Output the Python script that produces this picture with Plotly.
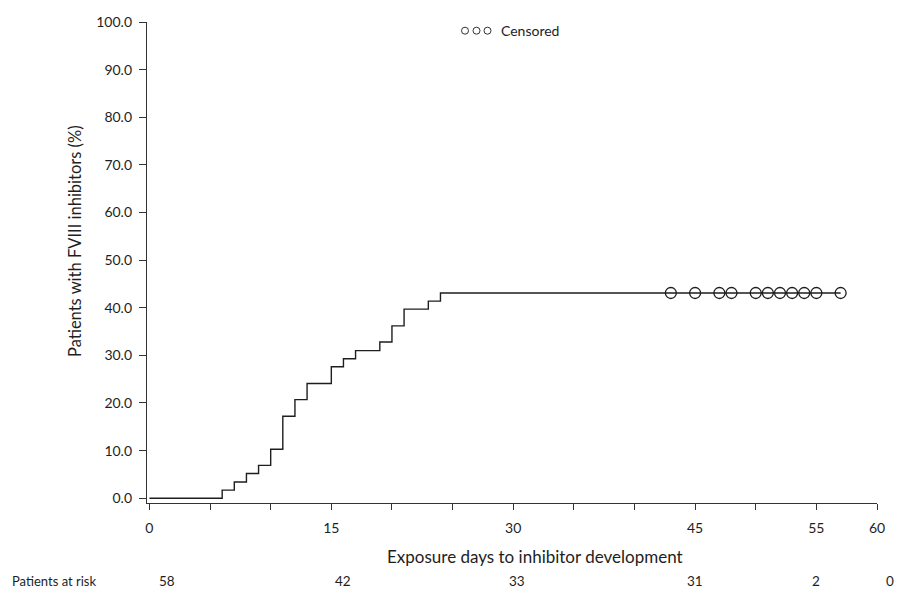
import plotly.graph_objects as go

# ---- data ----
event_days = [0, 6, 7, 8, 9, 10, 11, 12, 13, 15, 16, 17, 19, 20, 21, 23, 24, 57]
cum_pct = [0.0, 1.7, 3.4, 5.2, 6.9, 10.3, 17.2, 20.7, 24.1, 27.6, 29.3, 31.0,
           32.8, 36.2, 39.7, 41.4, 43.1, 43.1]
censored_days = [43, 45, 47, 48, 50, 51, 52, 53, 54, 55, 57]
censored_pct = [43.1] * len(censored_days)

x_tick_vals = list(range(0, 61, 5))
x_tick_labels = ["0", "", "", "15", "", "", "30", "", "", "45", "", "55", "60"]
y_tick_vals = list(range(0, 101, 10))
y_tick_labels = [f"{v:.1f}" for v in y_tick_vals]

risk_label = "Patients at risk"
risk_counts = [58, 42, 33, 31, 2, 0]

# ---- layout constants (page body margin removed below) ----
W, H = 897, 590
ML, MR, MT, MB = 147, 20, 22, 87
PW, PH = W - ML - MR, H - MT - MB
FONT = "Lato"
INK = "#1e1e1e"


def px_x(p):
    return (p - ML) / PW


def px_y(p):
    return (H - MB - p) / PH


risk_px = [167, 343, 517, 695, 816, 890]
RISK_Y = 581

fig = go.Figure()
fig.add_trace(go.Scatter(
    x=event_days, y=cum_pct, mode="lines", line=dict(shape="hv", color=INK, width=1.4),
    showlegend=False, hoverinfo="skip"))
fig.add_trace(go.Scatter(
    x=censored_days, y=censored_pct, mode="markers", name="Censored",
    marker=dict(symbol="circle-open", size=11, color=INK, line=dict(width=1.3, color=INK)),
    showlegend=False))

annotations = [
    dict(text="Exposure days to inhibitor development", x=px_x(535), y=px_y(556),
         xref="paper", yref="paper", showarrow=False, xanchor="center", yanchor="middle",
         font=dict(family=FONT, size=17, color=INK)),
    dict(text="Patients with FVIII inhibitors (%)", x=px_x(75), y=px_y(241),
         xref="paper", yref="paper", showarrow=False, textangle=-90,
         xanchor="center", yanchor="middle",
         font=dict(family=FONT, size=16.5, color=INK)),
    dict(text=risk_label, x=px_x(10), y=px_y(RISK_Y), xref="paper", yref="paper",
         showarrow=False, xanchor="left", yanchor="middle",
         font=dict(family=FONT, size=13, color=INK)),
    dict(text="Censored", x=px_x(499), y=px_y(30), xref="paper", yref="paper",
         showarrow=False, xanchor="left", yanchor="middle",
         font=dict(family=FONT, size=14, color=INK)),
]
for n, p in zip(risk_counts, risk_px):
    annotations.append(dict(text=str(n), x=px_x(p), y=px_y(RISK_Y), xref="paper", yref="paper",
                            showarrow=False, xanchor="center", yanchor="middle",
                            font=dict(family=FONT, size=13.5, color=INK)))

shapes = []
for cx in [465, 476.5, 487.5]:
    shapes.append(dict(type="circle", xref="paper", yref="paper",
                       xsizemode="pixel", ysizemode="pixel",
                       xanchor=px_x(cx), yanchor=px_y(30.7),
                       x0=-3.5, x1=3.5, y0=-3.5, y1=3.5,
                       line=dict(color="#333333", width=1)))

fig.update_layout(
    width=W, height=H, margin=dict(l=ML, r=MR, t=MT, b=MB, autoexpand=False),
    paper_bgcolor="white", plot_bgcolor="white",
    font=dict(family=FONT, size=14, color=INK),
    annotations=annotations, shapes=shapes,
    xaxis=dict(range=[-0.2, 60], tickvals=x_tick_vals, ticktext=x_tick_labels,
               ticks="outside", ticklen=6, tickwidth=1.2, tickcolor="#333",
               showline=True, linecolor="#333", linewidth=1.3, showgrid=False,
               zeroline=False, ticklabelstandoff=6,
               tickfont=dict(family=FONT, size=14, color=INK)),
    yaxis=dict(range=[-1, 100], tickvals=y_tick_vals, ticktext=y_tick_labels,
               ticks="outside", ticklen=7, tickwidth=1.2, tickcolor="#333",
               showline=True, linecolor="#333", linewidth=1.3, showgrid=False,
               zeroline=False, ticklabelstandoff=4,
               tickfont=dict(family=FONT, size=14, color=INK)),
)

fig.write_html("out.html", config={"displayModeBar": False},
               post_script="document.body.style.margin='0';document.body.style.overflow='hidden';")
